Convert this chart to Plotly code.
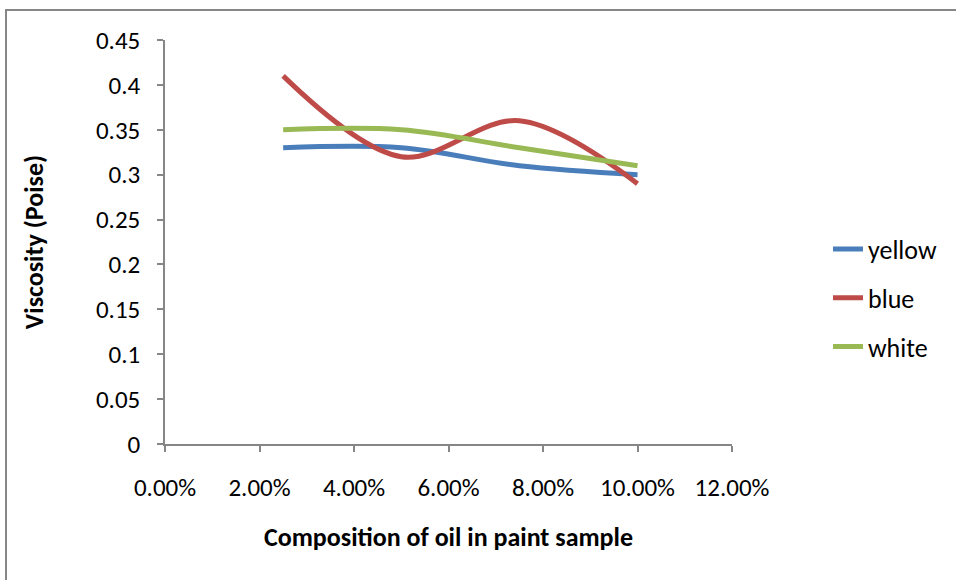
import plotly.graph_objects as go

composition = [0.025, 0.05, 0.075, 0.10]
yellow = [0.33, 0.33, 0.31, 0.30]
blue = [0.41, 0.32, 0.36, 0.29]
white = [0.35, 0.35, 0.33, 0.31]

series = [("yellow", yellow, "#4A7EBB"), ("blue", blue, "#BE4B48"), ("white", white, "#98B954")]

FONT = "Carlito, Lato, sans-serif"
AX = "#868686"

fig = go.Figure()
for name, vals, col in series:
    fig.add_trace(go.Scatter(
        x=composition, y=vals, name=name, mode="lines", legendgroup=name,
        line=dict(color=col, width=5, shape="spline", smoothing=1.0),
    ))

W, H = 956, 580
L, R, T, B = 165, 224, 40, 136
pw, ph = W - L - R, H - T - B

def px(x):
    return (x - L) / pw

def py(y):
    return (H - B - y) / ph

fig.add_shape(type="rect", xref="paper", yref="paper",
              x0=px(6), x1=px(990), y0=py(620), y1=py(10),
              line=dict(color=AX, width=2), fillcolor="rgba(0,0,0,0)", layer="below")

fig.update_layout(
    width=W, height=H,
    margin=dict(l=L, r=R, t=T, b=B),
    paper_bgcolor="white", plot_bgcolor="white",
    font=dict(family=FONT, size=25, color="black"),
    showlegend=True,
    legend=dict(x=px(828), xanchor="left", y=py(298), yanchor="middle",
                font=dict(size=26), tracegroupgap=12, bgcolor="rgba(0,0,0,0)"),
    xaxis=dict(
        range=[0, 0.12], dtick=0.02, tick0=0, tickformat=".2%",
        showgrid=False, zeroline=False, showline=True, linecolor=AX, linewidth=1.5,
        ticks="outside", ticklen=6, tickcolor=AX, tickwidth=1.5,
        tickfont=dict(size=25), ticklabelstandoff=14,
        title=dict(text="<b>Composition of oil in paint sample</b>", standoff=26,
                   font=dict(size=26)),
    ),
    yaxis=dict(
        range=[0, 0.45], dtick=0.05, tick0=0,
        showgrid=False, zeroline=False, showline=True, linecolor=AX, linewidth=1.5,
        ticks="outside", ticklen=6, tickcolor=AX, tickwidth=1.5,
        ticklabelstandoff=12, tickfont=dict(size=25),
        title=dict(text="<b>Viscosity (Poise)</b>", standoff=45, font=dict(size=26)),
    ),
)

fig.write_html("out.html", config={"displayModeBar": False},
               post_script="document.body.style.margin='0';")
